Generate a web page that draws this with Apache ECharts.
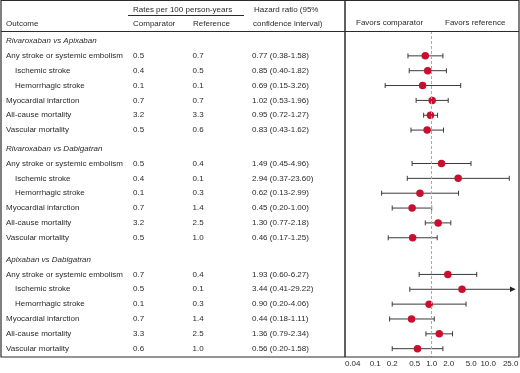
<!DOCTYPE html>
<html>
<head>
<meta charset="utf-8">
<script src="https://cdn.jsdelivr.net/npm/echarts@6/dist/echarts.min.js"></script>
<style>
  html, body { margin: 0; padding: 0; background: #fff; }
  #chart { width: 520px; height: 373px; }
</style>
</head>
<body>
<div id="chart"></div>
<script>
// 比较组与结局
const comparisons = ['Rivaroxaban vs Apixaban', 'Rivaroxaban vs Dabigatran', 'Apixaban vs Dabigatran'];
const outcomes = ['Any stroke or systemic embolism', 'Ischemic stroke', 'Hemorrhagic stroke',
  'Myocardial infarction', 'All-cause mortality', 'Vascular mortality'];
const indented = [false, true, true, false, false, false];

// Rates per 100 person-years
const comparatorRate = [
  [0.5, 0.4, 0.1, 0.7, 3.2, 0.5],
  [0.5, 0.4, 0.1, 0.7, 3.2, 0.5],
  [0.7, 0.5, 0.1, 0.7, 3.3, 0.6]
];
const referenceRate = [
  [0.7, 0.5, 0.1, 0.7, 3.3, 0.6],
  [0.4, 0.1, 0.3, 1.4, 2.5, 1.0],
  [0.4, 0.1, 0.3, 1.4, 2.5, 1.0]
];

// Hazard ratio (95% CI)
const hazardRatio = [
  [0.77, 0.85, 0.69, 1.02, 0.95, 0.83],
  [1.49, 2.94, 0.62, 0.45, 1.30, 0.46],
  [1.93, 3.44, 0.90, 0.44, 1.36, 0.56]
];
const ciLower = [
  [0.38, 0.40, 0.15, 0.53, 0.72, 0.43],
  [0.45, 0.37, 0.13, 0.20, 0.77, 0.17],
  [0.60, 0.41, 0.20, 0.18, 0.79, 0.20]
];
const ciUpper = [
  [1.58, 1.82, 3.26, 1.96, 1.27, 1.62],
  [4.96, 23.60, 2.99, 1.00, 2.18, 1.25],
  [6.27, 29.22, 4.06, 1.11, 2.34, 1.58]
];

// x 轴刻度（对数）
const tickValues = [0.04, 0.1, 0.2, 0.5, 1, 2, 5, 10, 25];
const tickLabels = ['0.04', '0.1', '0.2', '0.5', '1.0', '2.0', '5.0', '10.0', '25.0'];
const xMin = 0.0292;
const xMax = 35.1;

const sectionGap = [0, 0.25, 0.47];
const FONT = '"Liberation Sans", Arial, Helvetica, sans-serif';
const TEXT = '#2a2a2a';
const RED = '#c8102e';

// 行位置
const rows = [];
let pos = 0;
comparisons.forEach((name, s) => {
  pos += sectionGap[s];
  rows.push({ pos, section: name });
  pos += 1;
  outcomes.forEach((o, i) => {
    rows.push({ pos, outcome: o, s, i });
    pos += 1;
  });
});

const hrText = (s, i) =>
  hazardRatio[s][i].toFixed(2) + ' (' + ciLower[s][i].toFixed(2) + '-' + ciUpper[s][i].toFixed(2) + ')';

function rowLabel(v) {
  const r = rows.find(d => Math.abs(d.pos - v) < 1e-6);
  if (!r) return '';
  if (r.section) return '{sec|' + r.section + '}';
  const s = r.s, i = r.i;
  const name = indented[i] ? '{sub|' + r.outcome + '}' : '{name|' + r.outcome + '}';
  return name + '{rate|' + comparatorRate[s][i].toFixed(1) + '}{rate|' +
    referenceRate[s][i].toFixed(1) + '}{hr|' + hrText(s, i) + '}';
}

const base = { fontSize: 8, fontFamily: FONT, color: TEXT };

const barData = [];
const dotData = [];
rows.forEach(r => {
  if (r.section) return;
  const s = r.s, i = r.i;
  const arrow = ciUpper[s][i] > tickValues[tickValues.length - 1] ? 1 : 0;
  barData.push([Math.log10(ciLower[s][i]), Math.log10(ciUpper[s][i]), r.pos, arrow]);
  dotData.push([Math.log10(hazardRatio[s][i]), r.pos]);
});

function renderErrorBar(params, api) {
  const y = api.value(2);
  const a = api.coord([api.value(0), y]);
  const b = api.coord([api.value(1), y]);
  const cap = 2.5;
  const style = { stroke: '#3a3a3a', lineWidth: 1 };
  const children = [
    { type: 'line', shape: { x1: a[0], y1: a[1], x2: b[0], y2: b[1] }, style },
    { type: 'line', shape: { x1: a[0], y1: a[1] - cap, x2: a[0], y2: a[1] + cap }, style }
  ];
  if (api.value(3)) {
    children.push({
      type: 'polygon',
      shape: { points: [[b[0] + 1, b[1]], [b[0] - 4.5, b[1] - 2.8], [b[0] - 4.5, b[1] + 2.8]] },
      style: { fill: '#222' }
    });
  } else {
    children.push({ type: 'line', shape: { x1: b[0], y1: b[1] - cap, x2: b[0], y2: b[1] + cap }, style });
  }
  return { type: 'group', children };
}

const txt = (text, x, y, extra) => ({
  type: 'text', silent: true, z: 10,
  style: Object.assign({ text, x, y, fill: TEXT, fontSize: 8, fontFamily: FONT, verticalAlign: 'middle', align: 'left' }, extra || {})
});
const ln = (x1, y1, x2, y2, w) => ({
  type: 'line', silent: true, z: 10,
  shape: { x1, y1, x2, y2 },
  style: { stroke: '#2b2b2b', lineWidth: w || 1 }
});

const chart = echarts.init(document.getElementById('chart'));
chart.setOption({
  backgroundColor: '#fff',
  animation: false,
  grid: { left: 345, right: 1, top: 31, bottom: 16, containLabel: false, outerBoundsMode: 'none' },
  xAxis: {
    type: 'value',
    min: Math.log10(xMin),
    max: Math.log10(xMax),
    axisLine: { show: false },
    axisTick: { show: false },
    splitLine: { show: false },
    axisLabel: {
      ...base,
      margin: 3,
      customValues: tickValues.map(Math.log10),
      formatter: v => {
        const k = tickValues.findIndex(t => Math.abs(Math.log10(t) - v) < 1e-6);
        return k >= 0 ? tickLabels[k] : '';
      }
    }
  },
  yAxis: {
    type: 'value',
    inverse: true,
    min: -0.673,
    max: 21.28,
    axisLine: { show: false },
    axisTick: { show: false },
    splitLine: { show: false },
    axisLabel: {
      ...base,
      align: 'left',
      margin: 339,
      customValues: rows.map(r => r.pos),
      formatter: rowLabel,
      rich: {
        name: { ...base, width: 127 },
        sub: { ...base, width: 118, padding: [0, 0, 0, 9] },
        rate: { ...base, width: 59.5 },
        hr: { ...base },
        sec: { ...base, fontStyle: 'italic' }
      }
    }
  },
  series: [
    {
      type: 'custom',
      renderItem: renderErrorBar,
      data: barData,
      encode: { x: [0, 1], y: 2 },
      z: 2,
      silent: true
    },
    {
      type: 'scatter',
      data: dotData,
      symbolSize: 7.5,
      itemStyle: { color: RED, opacity: 1 },
      z: 3,
      silent: true,
      markLine: {
        silent: true,
        symbol: 'none',
        label: { show: false },
        lineStyle: { color: '#aaa', type: [3, 2], width: 1 },
        data: [{ xAxis: 0 }]
      }
    }
  ],
  graphic: [
    {
      type: 'rect', silent: true, z: 10,
      shape: { x: 1, y: 0.5, width: 518, height: 356.5 },
      style: { fill: 'none', stroke: '#2b2b2b', lineWidth: 1.2 }
    },
    ln(1, 31.5, 519, 31.5, 1.2),
    ln(345, 0.5, 345, 357, 1.5),
    ln(128, 15.5, 244, 15.5, 1),
    txt('Rates per 100 person-years', 133, 9.5),
    txt('Outcome', 6, 24),
    txt('Comparator', 133, 24),
    txt('Reference', 193, 24),
    txt('Hazard ratio (95%', 254, 10),
    txt('confidence interval)', 253, 24),
    txt('Favors comparator', 356, 23),
    txt('Favors reference', 445, 23)
  ]
});
</script>
</body>
</html>
